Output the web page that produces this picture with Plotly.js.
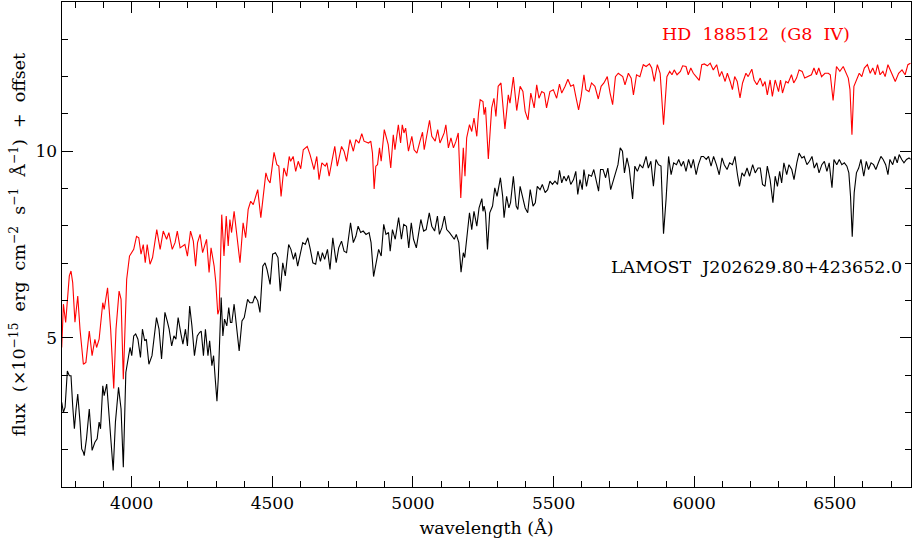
<!DOCTYPE html>
<html>
<head>
<meta charset="utf-8">
<script src="https://cdn.plot.ly/plotly-3.0.1.min.js"></script>
<style>html,body{margin:0;padding:0;background:#fff;}#chart{width:912px;height:547px;}</style>
</head>
<body>
<div id="chart"></div>
<script>
// HD 188512 (G8 IV) template spectrum (red)
const hdWave = [3751,3757,3765,3778,3784,3790,3798,3808,3816,3828,3837,3849,3859,3869,3875,3884,3897,3902,3914,3925,3936,3944,3955,3962,3970,3982,3992,4000,4007,4017,4025,4033,4041,4048,4055,4065,4074,4089,4101,4112,4124,4132,4144,4154,4162,4172,4189,4198,4209,4219,4227,4234,
4243,4252,4266,4275,4282,4293,4299,4306,4311,4320,4328,4336,4343,4349,4355,4364,4375,4385,4396,4405,4414,4423,4432,4438,4448,4459,4468,4477,4484,4492,4506,4516,4523,4531,4541,4551,4560,4565,4574,4583,4592,4601,4610,4624,4634,4648,4658,4666,4676,4688,4694,4702,4713,4722,4731,
4746,4755,4764,4776,4788,4797,4808,4818,4826,4842,4850,4856,4862,4868,4874,4881,4887,4898,4906,4912,4921,4930,4936,4948,4956,4962,4968,4974,4984,4996,5004,5014,5025,5034,5040,5049,5059,5067,5079,5088,5096,5104,5111,5117,5126,5135,5144,5153,5161,5170,5179,5185,5191,5201,5209,5217,5227,5233,
5239,5249,5253,5258,5268,5280,5288,5295,5303,5313,5327,5339,5345,5357,5369,5381,5391,5399,5409,5419,5431,5440,5448,5458,5467,5475,5487,5499,5511,5521,5529,5541,5551,5561,5571,5579,5589,5598,5608,5615,5626,5635,5647,5659,5669,5679,5691,5701,5710,5720,5730,
5746,5754,5766,5776,5784,5795,5807,5819,5829,5841,5849,5858,5869,5879,5891,5903,5913,5921,5929,5939,5951,5959,5971,5979,5988,5997,6007,6018,6027,6036,6047,6057,6068,6080,6090,6098,6110,6118,6128,6136,6144,6153,6163,6172,6184,6192,6205,6213,6223,
6235,6244,6252,6260,6270,6278,6288,6300,6307,6314,6326,6334,6346,6354,6364,6373,6384,6393,6405,6417,6426,6435,6443,6453,6465,6477,6484,6494,6506,6518,6530,6539,6548,6554,6561,6568,6578,6587,6596,6605,6616,6626,6635,6644,6652,6661,6671,6679,6689,6697,6705,6715,6727,6739,6750,6760,6769];
const hdFlux = [4.74,5.90,5.41,6.66,6.79,6.48,5.42,6.12,5.23,4.29,4.34,5.18,4.52,4.96,4.74,4.96,5.94,5.76,6.34,5.23,3.64,5.23,6.25,6.03,3.89,6.57,7.19,7.28,7.37,7.72,7.68,7.24,7.50,7.01,7.50,6.97,7.15,7.90,7.37,7.86,7.64,7.82,7.37,7.55,7.86,7.41,7.50,7.19,7.86,7.59,6.92,7.55,
7.77,7.28,7.64,6.75,7.41,6.92,6.48,5.63,5.76,8.30,7.19,8.26,7.46,8.17,7.82,8.39,7.73,7.01,8.08,7.68,8.44,8.66,8.57,8.71,8.97,8.22,8.79,9.42,9.24,9.15,9.97,9.64,9.60,8.79,9.55,9.33,9.86,9.73,9.86,9.46,9.73,9.53,10.04,10.13,9.91,9.51,9.86,9.24,9.69,9.60,9.69,9.33,9.78,10.13,9.60,
10.13,10.00,9.73,10.31,10.00,10.31,10.22,10.47,10.27,10.22,10.27,9.95,8.99,9.60,9.64,10.09,9.73,10.58,10.31,10.18,9.55,10.44,10.04,10.71,10.22,10.71,10.49,10.62,10.00,10.40,10.04,9.95,10.27,10.51,10.04,10.44,10.83,10.40,10.27,10.58,10.22,10.36,10.49,10.71,10.09,10.36,10.09,10.27,10.49,8.75,10.09,9.33,10.36,10.71,10.53,10.89,10.40,11.02,
11.38,11.33,10.98,11.18,9.79,11.16,11.42,10.93,11.74,11.83,10.60,11.51,11.29,11.99,11.09,11.74,11.60,11.07,10.84,11.56,11.16,11.78,11.42,11.60,11.56,11.16,11.60,11.65,11.42,11.80,11.56,11.74,11.93,11.74,11.78,11.47,11.11,11.47,12.05,11.65,11.60,11.83,11.74,11.40,11.74,11.83,12.00,11.56,11.25,12.00,12.09,
12.00,11.78,12.09,11.96,11.51,12.05,12.00,12.32,12.27,12.34,12.23,11.87,12.32,12.09,10.71,12.00,12.14,12.05,12.18,12.05,12.14,12.29,12.27,12.05,12.23,12.09,12.00,11.90,12.32,12.34,12.29,12.36,12.18,12.32,12.00,12.14,11.87,12.09,11.87,11.65,12.00,11.87,11.43,11.83,12.09,12.00,12.20,11.91,11.78,
11.96,11.74,11.87,11.51,11.91,11.47,11.91,11.60,11.91,11.56,11.87,11.83,12.05,11.83,11.96,12.18,12.14,11.96,12.00,12.05,12.23,12.05,12.23,12.00,12.09,12.09,12.05,11.36,12.27,12.14,12.27,12.09,11.96,11.65,10.44,11.74,11.91,12.09,12.00,12.23,12.32,12.09,12.23,12.05,12.32,12.05,12.14,12.00,12.32,12.18,12.05,11.87,12.09,12.18,12.05,12.32,12.36];

// LAMOST J202629.80+423652.0 spectrum (black)
const lamWave = [3751,3757,3763,3771,3778,3784,3790,3796,3802,3808,3816,3822,3828,3831,3839,3849,3854,3859,3869,3877,3884,3889,3897,3902,3911,3923,3934,3942,3953,3962,3970,3979,3986,3994,4000,4007,4014,4022,4031,4038,4046,4052,4061,4072,4088,4097,4106,4118,4126,4133,4142,4150,4157,4165,4175,4182,4191,4198,4206,4214,4223,4233,
4241,4247,4255,4262,4271,4277,4285,4291,4297,4303,4308,4318,4324,4330,4338,4345,4351,4356,4364,4373,4382,4392,4400,4412,4420,4430,4438,4448,4456,4466,4474,4481,4492,4501,4511,4520,4528,4537,4546,4558,4566,4575,4582,4590,4599,4608,4617,4626,4635,4644,4654,4662,4671,4678,4686,4696,4705,4715,4727,4736,
4746,4755,4764,4770,4778,4788,4797,4805,4814,4823,4833,4844,4851,4860,4869,4878,4887,4896,4904,4913,4919,4927,4937,4949,4959,4967,4977,4985,4994,5002,5012,5020,5028,5038,5047,5058,5067,5077,5087,5094,5103,5112,5120,5130,5139,5147,5154,5163,5171,5179,5184,5193,5201,5209,5217,5227,5235,
5245,5249,5253,5258,5265,5273,5283,5291,5299,5311,5319,5324,5333,5341,5347,5357,5367,5373,5381,5391,5399,5408,5417,5427,5435,5442,5452,5460,5470,5479,5487,5496,5505,5514,5521,5529,5537,5545,5553,5561,5571,5579,5586,5594,5602,5608,5617,5625,5635,5643,5652,5660,5667,5676,5685,5693,5703,5711,5719,5729,5737,
5745,5752,5761,5769,5781,5789,5798,5807,5817,5829,5837,5846,5855,5864,5873,5882,5891,5900,5909,5918,5927,5937,5945,5954,5962,5971,5980,5989,5997,6007,6015,6025,6033,6043,6051,6060,6069,6079,6089,6099,6107,6117,6126,6136,6145,6154,6161,6170,6178,6188,6197,6208,6217,6227,
6235,6243,6252,6260,6270,6280,6288,6296,6304,6311,6319,6329,6337,6347,6355,6365,6373,6383,6391,6401,6410,6419,6427,6436,6444,6454,6463,6472,6480,6490,6497,6507,6516,6525,6534,6543,6550,6556,6562,6569,6577,6585,6593,6603,6612,6620,6629,6638,6646,6655,6664,6672,6681,6689,6696,6706,6714,6722,6729,6738,6746,6755,6764,6770];
const lamFlux = [3.27,3.00,3.14,4.11,3.98,3.98,3.18,2.56,3.09,3.49,2.74,2.02,1.93,1.84,2.29,3.09,2.56,1.98,2.20,2.29,2.74,2.56,3.71,3.45,3.76,2.56,1.44,2.74,3.67,3.09,1.53,4.07,4.38,4.74,4.52,5.05,5.10,4.96,4.47,5.23,4.92,4.96,4.29,4.52,5.54,5.23,4.43,5.68,5.45,5.23,4.78,5.05,4.96,5.54,5.10,4.83,5.23,4.78,5.85,5.32,4.52,5.05,
5.14,5.18,4.52,5.23,4.52,4.92,4.25,4.52,3.89,3.30,3.95,6.08,5.05,5.50,5.32,5.81,5.41,5.41,5.90,5.32,4.65,5.45,5.54,6.03,5.94,5.94,6.12,5.99,5.68,6.92,7.01,6.83,6.43,7.24,7.28,7.15,6.25,7.01,6.66,7.50,7.37,7.10,7.28,6.92,7.24,7.55,7.50,7.68,7.37,7.01,6.97,7.32,7.05,7.28,7.10,7.37,6.83,7.68,7.01,7.41,
7.59,7.32,7.28,7.68,8.08,7.55,7.72,7.99,7.82,7.86,7.77,7.82,7.55,6.64,7.05,7.37,7.19,8.04,7.77,7.82,7.32,7.90,7.64,8.22,7.64,8.04,7.99,7.41,8.08,7.64,7.41,7.82,8.17,7.86,7.90,8.35,7.99,7.86,8.26,7.77,7.95,8.26,7.90,7.82,7.72,7.64,7.77,7.55,6.76,7.28,7.15,7.72,8.35,7.90,8.39,7.99,8.48,
8.73,8.39,8.53,8.35,7.37,8.35,8.53,9.02,8.79,9.29,8.79,8.22,8.79,8.48,8.62,9.33,8.53,8.44,9.06,8.71,8.48,8.35,8.97,8.53,8.62,9.06,8.97,9.11,8.89,8.97,9.20,9.11,9.20,9.11,9.49,9.15,9.33,9.20,9.35,9.11,9.24,9.46,8.84,9.24,8.97,9.51,9.06,9.37,9.33,9.51,9.24,8.93,9.51,9.51,9.29,9.55,8.97,9.20,9.42,9.64,10.09,
10.00,9.42,9.82,9.55,8.72,9.60,9.46,9.64,9.55,9.86,9.55,9.73,9.06,9.78,9.64,9.60,7.79,8.71,9.86,9.37,9.69,9.64,9.78,9.60,9.73,9.46,9.78,9.55,9.78,9.37,9.64,9.86,9.86,9.78,9.86,9.60,9.86,9.64,9.37,9.82,9.64,9.51,9.69,9.64,9.86,9.37,9.06,9.42,9.33,9.55,9.33,9.64,9.42,9.55,
9.55,9.11,9.06,9.60,9.24,8.62,9.33,9.06,9.46,9.15,9.69,9.37,9.64,9.51,9.24,9.69,9.95,9.82,9.86,9.64,9.73,9.86,9.55,9.69,9.42,9.64,9.73,9.46,9.69,9.02,9.78,9.64,9.78,9.64,9.69,9.60,9.42,8.79,7.71,8.89,9.42,9.55,9.78,9.33,9.73,9.51,9.69,9.64,9.51,9.69,9.86,9.78,9.64,9.37,9.78,9.64,9.86,9.69,9.91,9.78,9.69,9.78,9.82,9.78];

const xTickVals = [4000,4500,5000,5500,6000,6500];
const yTickVals = [5,10];
const labelHD = "HD&#160;&#160;188512&#160;&#160;(G8&#160;&#160;IV)";
const labelLAMOST = "LAMOST&#160;&#160;J202629.80+423652.0";

const FONT = "DejaVu Serif, Liberation Serif, serif";

const traces = [
  {x: hdWave, y: hdFlux, type: 'scatter', mode: 'lines', line: {color: '#ff0000', width: 1.1}, hoverinfo: 'skip'},
  {x: lamWave, y: lamFlux, type: 'scatter', mode: 'lines', line: {color: '#000000', width: 1.1}, hoverinfo: 'skip'}
];

const axisCommon = {
  showline: true, linecolor: '#000', linewidth: 1.4, mirror: 'allticks',
  ticks: 'inside', ticklen: 11, tickwidth: 1, tickcolor: '#000',
  showgrid: false, zeroline: false,
  tickfont: {family: FONT, size: 17, color: '#000'}
};

const layout = {
  width: 912, height: 547,
  margin: {l: 62, r: 1, t: 2, b: 60},
  paper_bgcolor: '#fff', plot_bgcolor: '#fff',
  showlegend: false,
  font: {family: FONT, color: '#000'},
  xaxis: Object.assign({}, axisCommon, {
    range: [3752, 6771], tickvals: xTickVals, ticktext: xTickVals.map(String),
    minor: {dtick: 100, tick0: 0, ticks: 'inside', ticklen: 6, tickcolor: '#000', tickwidth: 1},
    title: {text: 'wavelength (Å)', font: {family: FONT, size: 17.5}, standoff: 10}
  }),
  yaxis: Object.assign({}, axisCommon, {
    range: [1, 14], tickvals: yTickVals, ticktext: yTickVals.map(String),
    minor: {dtick: 1, tick0: 0, ticks: 'inside', ticklen: 6, tickcolor: '#000', tickwidth: 1},
    title: {text: 'flux  (×10<sup>−15</sup>  erg  cm<sup>−2</sup>  s<sup>−1</sup>  Å<sup>−1</sup>)  +  offset', font: {family: FONT, size: 17.5}, standoff: 5}
  }),
  annotations: [
    {x: 6220, y: 13.14, xref: 'x', yref: 'y', text: labelHD, showarrow: false, font: {family: FONT, size: 17.5, color: '#ff0000'}},
    {x: 6223, y: 6.89, xref: 'x', yref: 'y', text: labelLAMOST, showarrow: false, font: {family: FONT, size: 17.5, color: '#000'}}
  ]
};

Plotly.newPlot('chart', traces, layout, {displayModeBar: false, staticPlot: true});
</script>
</body>
</html>
